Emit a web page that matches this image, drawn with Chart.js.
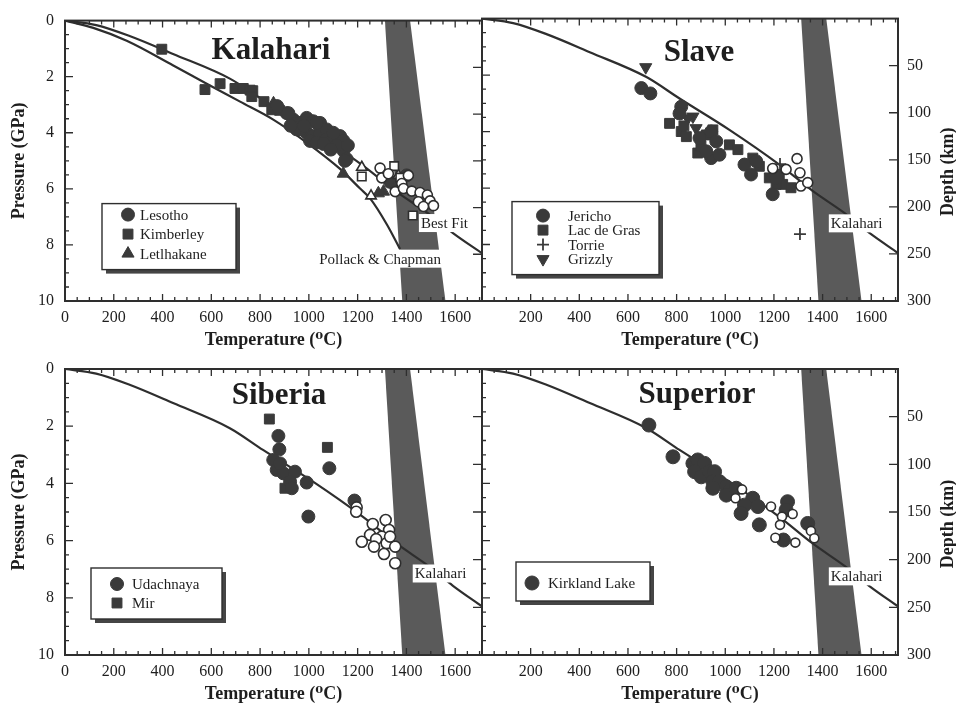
<!DOCTYPE html>
<html>
<head>
<meta charset="utf-8">
<script src="https://cdn.jsdelivr.net/npm/chart.js@4.4.1/dist/chart.umd.min.js"></script>
<style>
  html, body { margin: 0; padding: 0; background: #fff; }
  #wrap { position: relative; width: 956px; height: 708px; overflow: hidden; }
  canvas { position: absolute; left: 0; top: 0; }
</style>
</head>
<body>
<div id="wrap">
  <canvas id="kalahari" width="956" height="708"></canvas>
  <canvas id="slave" width="956" height="708"></canvas>
  <canvas id="siberia" width="956" height="708"></canvas>
  <canvas id="superior" width="956" height="708"></canvas>
</div>
<script>
const INK   = '#2e2e2e';
const MARK  = '#3a3a3a';
const BAND  = '#5a5a5a';
const TEXT  = '#1e1e1e';
const SERIF = "'Liberation Serif', 'DejaVu Serif', serif";

// ── axes ──
const T_MAX = 1710;
const TEMP_TICKS_LEFT  = [0, 200, 400, 600, 800, 1000, 1200, 1400, 1600];
const TEMP_TICKS_RIGHT = [200, 400, 600, 800, 1000, 1200, 1400, 1600];
const PRESSURE_TICKS   = [0, 2, 4, 6, 8, 10];
const DEPTH_TICKS      = [50, 100, 150, 200, 250, 300];

// ── reference geotherms ──
const KALAHARI_T = [0, 128, 265, 443, 676, 812, 1017, 1222, 1359, 1496, 1591, 1710];
const KALAHARI_P = [0, 0.16, 0.55, 1.19, 2.07, 2.83, 3.94, 5.17, 6.1, 6.92, 7.58, 8.3];
const POLLACK_T  = [0, 116, 253, 444, 581, 718, 854, 991, 1128, 1210, 1251, 1320, 1374];
const POLLACK_P  = [0, 0.26, 0.72, 1.6, 2.25, 2.89, 3.53, 4.35, 5.29, 5.99, 6.34, 7.27, 8.15];

// grey band (graphite / diamond field)
const BAND_T = [1312, 1415, 1560, 1383];
const BAND_P = [0, 0, 10, 10];

// ── Kalahari ──
const LESOTHO = [[909,3.3],[936,3.53],[964,3.65],[991,3.47],[1018,3.59],[1046,3.65],[950,3.88],[991,4.0],
  [1018,4.12],[1046,4.0],[1073,3.88],[1073,4.23],[1100,4.23],[1128,4.12],[1142,4.29],[1005,4.29],[1032,4.35],
  [1142,4.64],[1155,4.94],[1148,5.0],[916,3.3],[964,3.88],[1100,4.0],[1032,3.65],[870,3.05],
  [925,3.75],[980,3.75],[1060,4.4],[1115,4.45],[1090,4.6],[1160,4.45],
  [1333,5.75],[1360,5.99],[1401,5.52]];
const KIMBERLEY = [[397,1.02],[574,2.46],[636,2.25],[697,2.42],[731,2.42],[759,2.48],[770,2.5],[766,2.71],
  [816,2.89],[848,3.18],[950,3.82],[880,3.2]];
const KIMBERLEY_OPEN = [[1217,5.56],[1350,5.19],[1426,6.95],[1375,5.6]];
const LETLHAKANE = [[855,2.95],[1141,5.46],[1285,6.16],[1306,6.1]];
const LETLHAKANE_OPEN = [[1217,5.23],[1255,6.25],[1367,5.52]];
const KALAHARI_OPEN = [[1292,5.26],[1299,5.61],[1326,5.46],[1408,5.52],[1381,5.81],[1354,6.1],[1388,5.99],
  [1422,6.08],[1456,6.13],[1486,6.22],[1497,6.43],[1511,6.6],[1449,6.46],[1470,6.63]];

// ── Slave ──
const JERICHO = [[655,2.46],[692,2.65],[819,3.12],[812,3.36],[942,4.0],[963,4.35],[942,4.94],[976,4.82],
  [894,4.23],[1079,5.17],[1106,5.52],[1127,5.05],[1195,6.22],[1209,5.64],[922,4.7]];
const LAC_DE_GRAS = [[771,3.71],[819,4.0],[840,4.18],[887,4.76],[922,4.12],[949,3.94],[1017,4.47],[1052,4.64],
  [1113,4.94],[1140,5.23],[1181,5.64],[1222,5.52],[1236,5.87],[1270,5.99],[1209,5.87],[900,4.5],[830,3.8]];
const TORRIE = [[1307,7.63],[1225,5.15]];
const GRIZZLY = [[673,1.72],[867,3.47],[880,3.88],[846,3.53]];
const SLAVE_OPEN = [[1295,4.96],[1195,5.31],[1250,5.34],[1307,5.46],[1311,5.93],[1339,5.81]];

// ── Siberia ──
const UDACHNAYA = [[875,2.34],[879,2.81],[854,3.18],[868,3.53],[896,3.65],[943,3.59],[923,3.94],[930,4.17],
  [991,3.97],[1084,3.47],[998,5.16],[1187,4.6],[882,3.3]];
const MIR = [[838,1.75],[1076,2.74],[902,4.17]];
const SIBERIA_OPEN = [[1196,4.84],[1194,4.99],[1262,5.42],[1315,5.28],[1329,5.63],[1299,5.86],[1251,5.8],
  [1276,5.95],[1217,6.04],[1267,6.21],[1319,6.09],[1354,6.21],[1308,6.47],[1354,6.79],[1333,5.86]];

// ── Superior ──
const KIRKLAND = [[686,1.96],[785,3.07],[867,3.3],[887,3.18],[915,3.3],[874,3.59],[901,3.77],[935,3.59],
  [956,3.59],[949,3.94],[976,3.94],[949,4.17],[1004,4.12],[1017,4.29],[1004,4.41],[1045,4.17],[1113,4.52],
  [1079,4.76],[1134,4.81],[1065,5.05],[1140,5.45],[1256,4.64],[1250,4.93],[1339,5.4],[1239,5.98]];
const SUPERIOR_OPEN = [[1069,4.21],[1042,4.52],[1188,4.81],[1233,5.16],[1277,5.07],[1225,5.45],[1352,5.66],
  [1366,5.92],[1206,5.9],[1288,6.07]];

const PANELS = [
  {
    id: 'kalahari', area: [65, 16, 482, 301], left: true, title: 'Kalahari', titleAt: [206, 38],
    legend: { box: [37, 183, 134, 66], first: 11, gap: 19.5, mx: 26, tx: 38 },
    open: [
      { data: KALAHARI_OPEN, style: 'circle', r: 5 },
      { data: KIMBERLEY_OPEN, style: 'rect', r: 6 },
      { data: LETLHAKANE_OPEN, style: 'triangle', r: 6 },
    ],
    series: [
      { label: 'Lesotho', data: LESOTHO, style: 'circle', r: 6.5 },
      { label: 'Kimberley', data: KIMBERLEY, style: 'rect', r: 7 },
      { label: 'Letlhakane', data: LETLHAKANE, style: 'triangle', r: 7 },
    ],
    curves: [[KALAHARI_T, KALAHARI_P], [POLLACK_T, POLLACK_P]],
    notes: [{ text: 'Best Fit', t: 1556, p: 7.22 }, { text: 'Pollack & Chapman', t: 1292, p: 8.49 }],
  },
  {
    id: 'slave', area: [482, 16, 898, 301], left: false, title: 'Slave', titleAt: [217, 42],
    legend: { box: [30, 183, 147, 73], first: 14, gap: 14.5, mx: 31, tx: 56 },
    open: [{ data: SLAVE_OPEN, style: 'circle', r: 5 }],
    series: [
      { label: 'Jericho', data: JERICHO, style: 'circle', r: 6.5 },
      { label: 'Lac de Gras', data: LAC_DE_GRAS, style: 'rect', r: 7 },
      { label: 'Torrie', data: TORRIE, style: 'cross', r: 6 },
      { label: 'Grizzly', data: GRIZZLY, style: 'triangle', r: 7, rot: 180 },
    ],
    curves: [[KALAHARI_T, KALAHARI_P]],
    notes: [{ text: 'Kalahari', t: 1540, p: 7.25 }],
  },
  {
    id: 'siberia', area: [65, 369, 482, 655], left: true, title: 'Siberia', titleAt: [214, 35],
    legend: { box: [26, 199, 131, 51], first: 16, gap: 19, mx: 26, tx: 41 },
    open: [{ data: SIBERIA_OPEN, style: 'circle', r: 5.5 }],
    series: [
      { label: 'Udachnaya', data: UDACHNAYA, style: 'circle', r: 6.5 },
      { label: 'Mir', data: MIR, style: 'rect', r: 7 },
    ],
    curves: [[KALAHARI_T, KALAHARI_P]],
    notes: [{ text: 'Kalahari', t: 1540, p: 7.15 }],
  },
  {
    id: 'superior', area: [482, 369, 898, 655], left: false, title: 'Superior', titleAt: [215, 34],
    legend: { box: [34, 193, 134, 39], first: 21, gap: 19, mx: 16, tx: 32 },
    open: [{ data: SUPERIOR_OPEN, style: 'circle', r: 4.5 }],
    series: [{ label: 'Kirkland Lake', data: KIRKLAND, style: 'circle', r: 7 }],
    curves: [[KALAHARI_T, KALAHARI_P]],
    notes: [{ text: 'Kalahari', t: 1540, p: 7.25 }],
  },
];

function markerDataset(s, hollow) {
  return {
    label: s.label || '',
    data: s.data,
    showLine: false,
    pointStyle: s.style,
    pointRadius: s.r,
    pointRotation: s.rot || 0,
    pointBackgroundColor: hollow ? '#ffffff' : MARK,
    pointBorderColor: hollow ? INK : MARK,
    pointBorderWidth: hollow ? 1.6 : (s.style === 'cross' ? 1.8 : 1),
  };
}

function curveDataset([t, p]) {
  return {
    data: t.map((v, i) => [v, p[i]]),
    showLine: true,
    pointRadius: 0,
    borderColor: INK,
    borderWidth: 2.2,
    cubicInterpolationMode: 'monotone',
    fill: false,
  };
}

function decor(panel) {
  return {
    id: 'decor',
    beforeDatasetsDraw(chart) {
      const { ctx, chartArea: a, scales: { x, y } } = chart;
      ctx.save();
      ctx.beginPath();
      ctx.rect(a.left, a.top, a.right - a.left, a.bottom - a.top);
      ctx.clip();
      ctx.fillStyle = BAND;
      ctx.beginPath();
      BAND_T.forEach((t, i) => {
        const px = x.getPixelForValue(t), py = y.getPixelForValue(BAND_P[i]);
        i ? ctx.lineTo(px, py) : ctx.moveTo(px, py);
      });
      ctx.closePath();
      ctx.fill();
      ctx.restore();
    },
    afterDatasetsDraw(chart) {
      const { ctx, chartArea: a, scales: { x, y, y2 } } = chart;
      ctx.save();

      // curve labels on white
      ctx.font = `15px ${SERIF}`;
      ctx.textAlign = 'center';
      ctx.textBaseline = 'middle';
      panel.notes.forEach(n => {
        const px = x.getPixelForValue(n.t), py = y.getPixelForValue(n.p);
        const w = ctx.measureText(n.text).width;
        ctx.fillStyle = '#fff';
        ctx.fillRect(px - w / 2 - 2, py - 9, w + 4, 18);
        ctx.fillStyle = TEXT;
        ctx.fillText(n.text, px, py + 1);
      });

      // inward ticks
      ctx.strokeStyle = INK;
      ctx.lineWidth = 1.3;
      ctx.beginPath();
      for (let v = 0; v <= T_MAX; v += 50) {
        const px = x.getPixelForValue(v);
        const len = v % 200 === 0 ? 7 : 4;
        ctx.moveTo(px, a.bottom); ctx.lineTo(px, a.bottom - len);
        ctx.moveTo(px, a.top);    ctx.lineTo(px, a.top + len);
      }
      for (let v = 0.5; v < 10; v += 0.5) {
        const py = y.getPixelForValue(v);
        const len = v % 2 === 0 ? 8 : 4;
        ctx.moveTo(a.left, py); ctx.lineTo(a.left + len, py);
      }
      DEPTH_TICKS.forEach(d => {
        const py = y2.getPixelForValue(d);
        ctx.moveTo(a.right, py); ctx.lineTo(a.right - 9, py);
      });
      ctx.stroke();

      // frame
      ctx.lineWidth = 2;
      ctx.strokeRect(a.left, a.top, a.right - a.left, a.bottom - a.top);

      // panel title
      ctx.fillStyle = TEXT;
      ctx.font = `bold 31px ${SERIF}`;
      ctx.textAlign = 'center';
      ctx.textBaseline = 'alphabetic';
      ctx.fillText(panel.title, a.left + panel.titleAt[0], a.top + panel.titleAt[1]);

      // legend box with drop shadow
      const L = panel.legend;
      const bx = a.left + L.box[0], by = a.top + L.box[1];
      ctx.fillStyle = '#454545';
      ctx.fillRect(bx + 4, by + 4, L.box[2], L.box[3]);
      ctx.fillStyle = '#fff';
      ctx.fillRect(bx, by, L.box[2], L.box[3]);
      ctx.lineWidth = 1.4;
      ctx.strokeStyle = INK;
      ctx.strokeRect(bx, by, L.box[2], L.box[3]);
      ctx.font = `15px ${SERIF}`;
      ctx.textAlign = 'left';
      ctx.textBaseline = 'middle';
      panel.series.forEach((s, i) => {
        const ry = by + L.first + i * L.gap;
        ctx.fillStyle = MARK;
        ctx.strokeStyle = MARK;
        ctx.lineWidth = s.style === 'cross' ? 1.8 : 1;
        Chart.helpers.drawPoint(ctx, {
          pointStyle: s.style, radius: s.r, rotation: s.rot || 0,
          borderWidth: s.style === 'cross' ? 1.8 : 1,
        }, bx + L.mx, ry);
        ctx.fillStyle = TEXT;
        ctx.fillText(s.label, bx + L.tx, ry + 1);
      });

      // right axis title (reads bottom to top)
      if (!panel.left) {
        ctx.save();
        ctx.translate(948, (a.top + a.bottom) / 2 + 12);
        ctx.rotate(-Math.PI / 2);
        ctx.font = `bold 18px ${SERIF}`;
        ctx.textAlign = 'center';
        ctx.textBaseline = 'middle';
        ctx.fillStyle = TEXT;
        ctx.fillText('Depth (km)', 0, 0);
        ctx.restore();
      }
      ctx.restore();
    },
  };
}

function makePanel(panel) {
  const [l, t, r, b] = panel.area;
  const leftW = panel.left ? 60 : 0;
  const rightW = panel.left ? 0 : 58;
  const bottomH = 50;
  const tickFont = { family: SERIF, size: 16 };
  const titleFont = { family: SERIF, size: 18, weight: 'bold' };
  const plain = v => String(v);

  const datasets = [
    ...panel.open.map(s => markerDataset(s, true)),
    ...panel.series.map(s => markerDataset(s, false)),
    ...panel.curves.map(curveDataset),
  ];

  new Chart(document.getElementById(panel.id), {
    type: 'scatter',
    data: { datasets },
    options: {
      responsive: false,
      animation: false,
      events: [],
      layout: { padding: { left: l - leftW, right: 956 - r - rightW, top: t, bottom: 708 - b - bottomH } },
      plugins: { legend: { display: false }, tooltip: { enabled: false } },
      scales: {
        x: {
          type: 'linear', position: 'bottom', min: 0, max: T_MAX,
          afterBuildTicks: s => { s.ticks = (panel.left ? TEMP_TICKS_LEFT : TEMP_TICKS_RIGHT).map(v => ({ value: v })); },
          afterFit: s => { s.height = bottomH; },
          grid: { display: false, drawTicks: false },
          border: { display: false },
          ticks: { font: tickFont, color: TEXT, padding: 7, maxRotation: 0, autoSkip: false, callback: plain },
          title: { display: true, text: 'Temperature (⁰C)', font: titleFont, color: TEXT, padding: 0 },
        },
        y: {
          type: 'linear', position: 'left', reverse: true, min: 0, max: 10, display: panel.left,
          afterBuildTicks: s => { s.ticks = PRESSURE_TICKS.map(v => ({ value: v })); },
          afterFit: s => { s.width = leftW; },
          grid: { display: false, drawTicks: false },
          border: { display: false },
          ticks: { font: tickFont, color: TEXT, padding: 11, callback: plain },
          title: { display: true, text: 'Pressure (GPa)', font: titleFont, color: TEXT, padding: { top: 4, bottom: 0 } },
        },
        y2: {
          type: 'linear', position: 'right', reverse: true, min: 0, max: 300, display: !panel.left,
          afterBuildTicks: s => { s.ticks = DEPTH_TICKS.map(v => ({ value: v })); },
          afterFit: s => { s.width = rightW; },
          grid: { display: false, drawTicks: false },
          border: { display: false },
          ticks: { font: tickFont, color: TEXT, padding: 9, callback: plain },
        },
      },
    },
    plugins: [decor(panel)],
  });
}

PANELS.forEach(makePanel);
</script>
</body>
</html>
